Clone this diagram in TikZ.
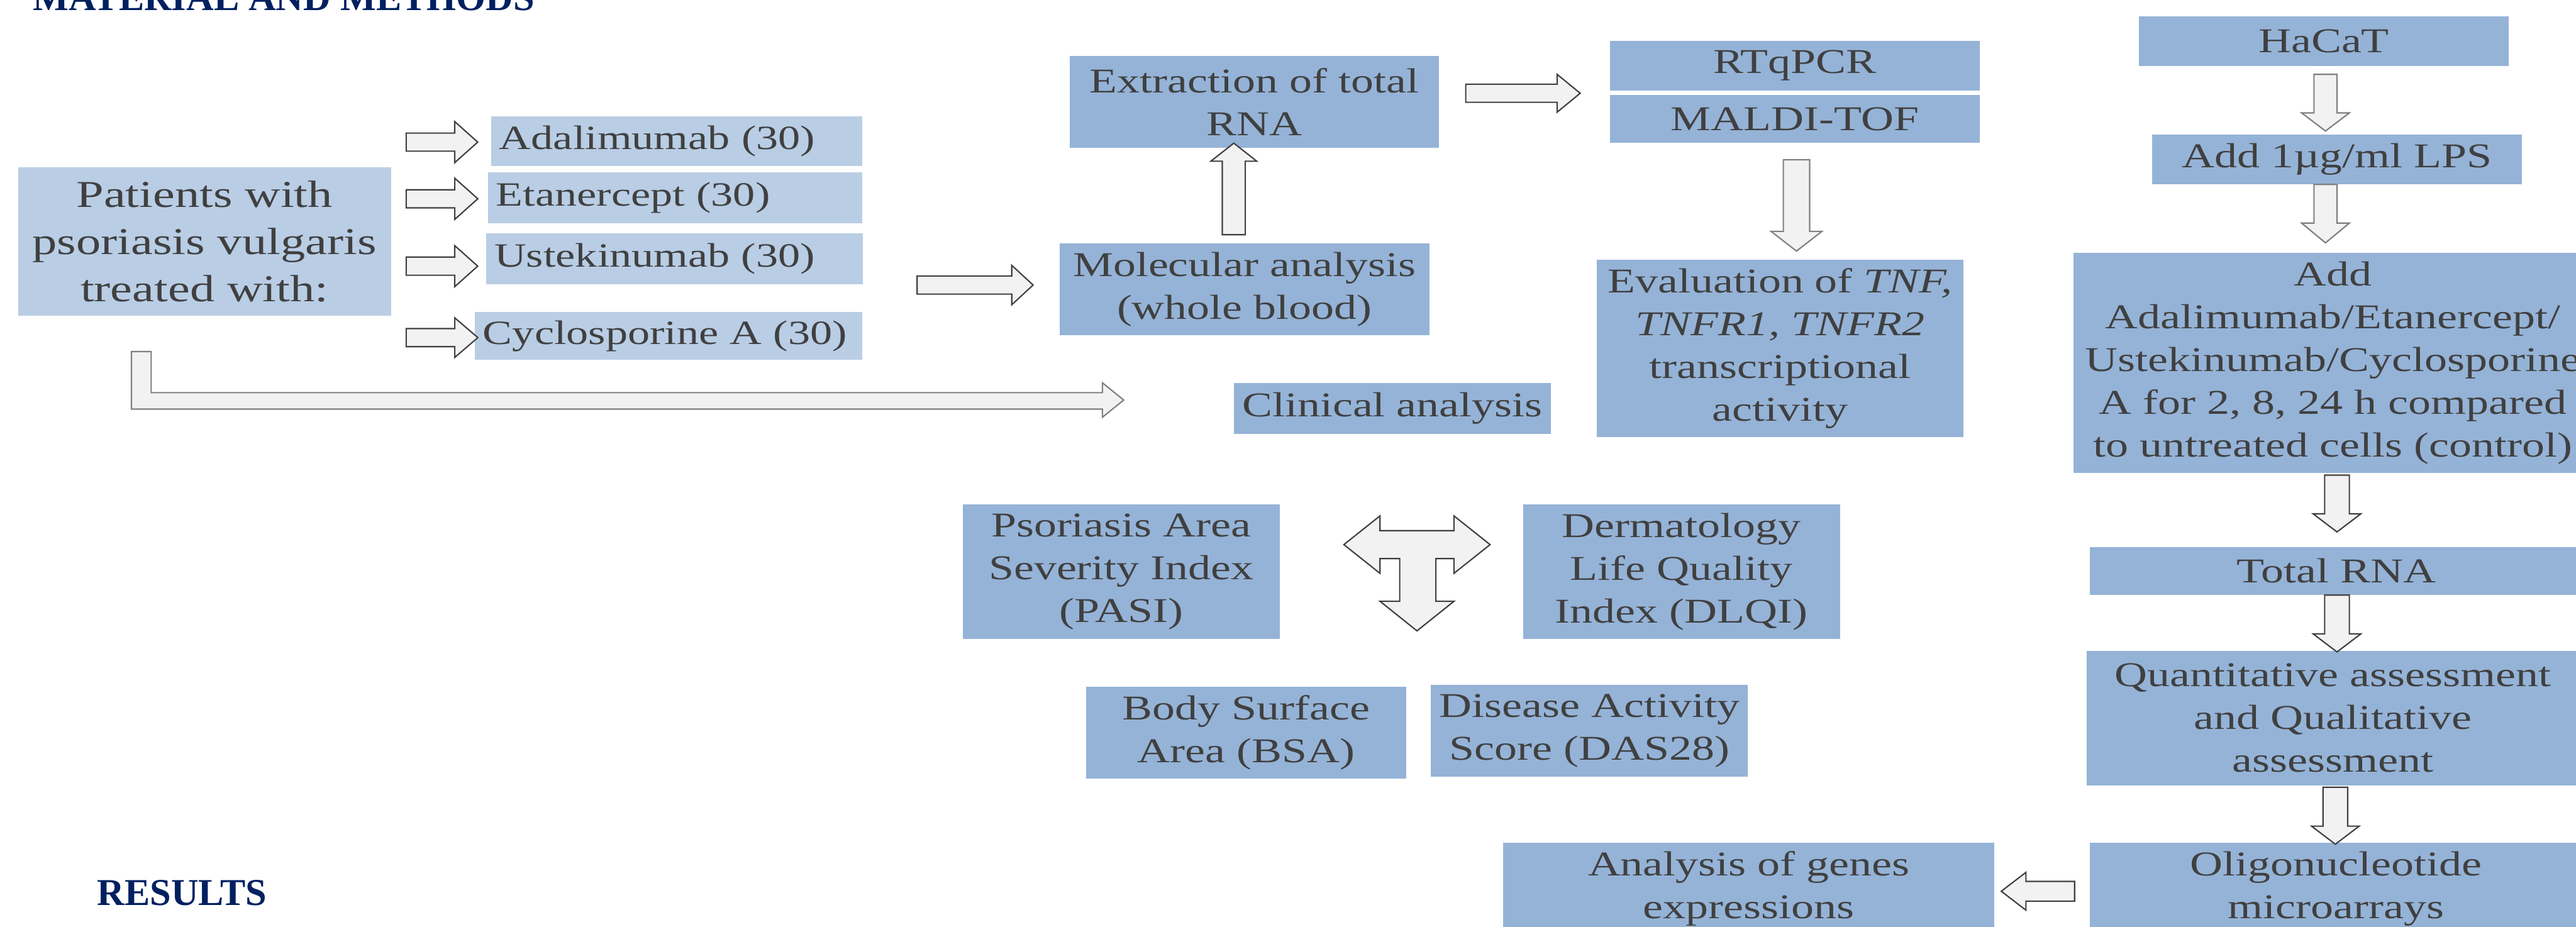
\documentclass[tikz,border=0pt]{standalone}
\usepackage{fontspec}
\setmainfont{Liberation Serif}[FakeStretch=1.3]
\newfontfamily\headfont{Liberation Serif}
\usetikzlibrary{calc}
\definecolor{boxblue}{HTML}{95B3D7}
\definecolor{paleblue}{HTML}{B9CDE5}
\definecolor{txtgray}{HTML}{404040}
\definecolor{arrfill}{HTML}{F2F2F2}
\definecolor{arrdark}{HTML}{404040}
\definecolor{arrgray}{HTML}{7F7F7F}
\definecolor{navy}{HTML}{002060}
\def\blockarrow[#1](#2)(#3)(#4:#5:#6){\draw[#1] let \p1=(#2), \p2=(#3), \n1={atan2(\y2-\y1,\x2-\x1)}, \n2={veclen(\x2-\x1,\y2-\y1)} in [shift={(\p1)}, rotate=\n1] (0pt,{#4*1.04pt}) -- ({\n2*1pt-#6*1.04pt},{#4*1.04pt}) -- ({\n2*1pt-#6*1.04pt},{#5*1.04pt}) -- ({\n2*1pt},0pt) -- ({\n2*1pt-#6*1.04pt},{-#5*1.04pt}) -- ({\n2*1pt-#6*1.04pt},{-#4*1.04pt}) -- (0pt,{-#4*1.04pt}) -- cycle;}

\begin{document}
\begin{tikzpicture}[x=0.0365cm, y=-0.0365cm,
	box/.style={fill=boxblue, text=txtgray, align=center, inner sep=0pt, font=\fontsize{22}{27}\selectfont},
	drug/.style={box, fill=paleblue, align=left, inner xsep=0.18cm, font=\fontsize{21.5}{26}\selectfont},
	arr/.style={fill=arrfill, draw=arrdark, line width=0.85pt},
	arrg/.style={arr, draw=arrgray},
	head/.style={text=navy, inner sep=0pt, anchor=base west, font=\headfont\bfseries\fontsize{24}{28}\selectfont}]
			%%%%% START %%%%%
			
			\useasboundingbox (0,0) rectangle (1568,564);
			
			\node[head] (methods) at (20,6.5) {MATERIAL AND METHODS};
			\node[head] (results) at (59,551) {RESULTS};
			
			\node[box, fill=paleblue, minimum width=8.29cm, minimum height=3.29cm, font=\fontsize{24}{30}\selectfont] (patients) at (124.5,147) {Patients with\\psoriasis vulgaris\\treated with:};
			\node[drug, text width=7.89cm, minimum height=1.10cm] (ada) at (412,86) {Adalimumab (30)};
			\node[drug, text width=7.96cm, minimum height=1.13cm] (eta) at (411,120.5) {Etanercept (30)};
			\node[drug, text width=8.00cm, minimum height=1.13cm] (ust) at (410.5,157.5) {Ustekinumab (30)};
			\node[drug, text width=8.25cm, minimum height=1.06cm] (cyc) at (407,204.5) {Cyclosporine A (30)};
			
			\node[box, minimum width=8.21cm, minimum height=2.04cm] (extraction) at (763.5,62) {Extraction of total\\RNA};
			\node[box, minimum width=8.21cm, minimum height=2.04cm] (molecular) at (757.5,176) {Molecular analysis\\(whole blood)};
			\node[box, minimum width=8.21cm, minimum height=1.10cm] (rtqpcr) at (1092.5,40) {RTqPCR};
			\node[box, minimum width=8.21cm, minimum height=1.06cm] (maldi) at (1092.5,72.5) {MALDI-TOF};
			\node[box, minimum width=8.14cm, minimum height=3.94cm] (evaluation) at (1083.5,212) {Evaluation of \textit{TNF,}\\\textit{TNFR1, TNFR2}\\transcriptional\\activity};
			\node[box, minimum width=7.04cm, minimum height=1.13cm] (clinical) at (847.5,248.5) {Clinical analysis};
			
			\node[box, minimum width=7.04cm, minimum height=2.99cm] (pasi) at (682.5,348) {Psoriasis Area\\Severity Index\\(PASI)};
			\node[box, minimum width=7.04cm, minimum height=2.99cm] (dlqi) at (1023.5,348) {Dermatology\\Life Quality\\Index (DLQI)};
			\node[box, minimum width=7.12cm, minimum height=2.04cm] (bsa) at (758.5,446) {Body Surface\\Area (BSA)};
			\node[box, minimum width=7.04cm, minimum height=2.04cm] (das) at (967.5,445) {Disease Activity\\Score (DAS28)};
			\node[box, minimum width=10.91cm, minimum height=2.04cm] (analysis) at (1064.5,541) {Analysis of genes\\expressions};
			
			\node[box, minimum width=8.21cm, minimum height=1.10cm] (hacat) at (1414.5,25) {HaCaT};
			\node[box, minimum width=8.21cm, minimum height=1.10cm] (lps) at (1422.5,97) {Add 1µg/ml LPS};
			\node[box, minimum width=11.53cm, minimum height=4.89cm] (add) at (1420,221) {Add\\Adalimumab/Etanercept/\\Ustekinumab/Cyclosporine\\A for 2, 8, 24 h compared\\to untreated cells (control)};
			\node[box, minimum width=10.95cm, minimum height=1.06cm] (total) at (1422,347.5) {Total RNA};
			\node[box, minimum width=10.95cm, minimum height=2.99cm] (quant) at (1420,437) {Quantitative assessment\\and Qualitative\\assessment};
			\node[box, minimum width=10.95cm, minimum height=2.04cm] (oligo) at (1422,541) {Oligonucleotide\\microarrays};
			
			% patients to the drugs
			\blockarrow[arr]($(patients.east |- ada.west)+(9,0.5)$)($(ada.west)+(-8,0.5)$)(5.5:12.5:14);
			\blockarrow[arr]($(patients.east |- eta.west)+(9,0.5)$)($(eta.west)+(-6,0.5)$)(5.5:12.5:14);
			\blockarrow[arr]($(patients.east |- ust.west)+(9,4.5)$)($(ust.west)+(-5,4.5)$)(5.5:12.5:14);
			\blockarrow[arr]($(patients.east |- cyc.west)+(9,1)$)($(cyc.west)+(2,1)$)(5.5:12:14);
			
			% molecular branch
			\blockarrow[arr]($(ada.east |- molecular.west)+(33,-2.5)$)($(molecular.west)+(-16,-2.5)$)(5.5:12:13);
			\blockarrow[arr]($(molecular.north)+(-6.5,-5)$)($(extraction.south)+(-12.5,-3)$)(7:14:11);
			\blockarrow[arr]($(extraction.east |- rtqpcr.south)+(16,1.5)$)($(rtqpcr.south west)+(-18,1.5)$)(5.5:11.5:14);
			\blockarrow[arrg]($(maldi.south)+(1,10)$)($(maldi.south |- evaluation.north)+(1,-5)$)(8:15.5:12);
			
			% clinical branch
			\coordinate (ltop) at (86,214);
			\coordinate (ltip) at (684,243.5);
			\draw[arrg] ($(ltop)+(-6,0)$) |- ($(ltip)+(-13,5.5)$) -- ++(0,5) -- (ltip) -- ++(-13,-10.5) -- ++(0,6) -| ($(ltop)+(6,0)$) -- cycle;
			
			\coordinate (tee) at (862.5,331.5);
			\draw[arr, shift={(tee)}] (-44.5,0) -- (-22.5,-17.5) -- (-22.5,-8.5) -- (22.5,-8.5) -- (22.5,-17.5) -- (44.5,0) -- (22.5,17.5) -- (22.5,8.5) -- (11.5,8.5) -- (11.5,34.5) -- (22.5,34.5) -- (0,52.5) -- (-22.5,34.5) -- (-10.5,34.5) -- (-10.5,8.5) -- (-22.5,8.5) -- (-22.5,17.5) -- cycle;
			
			% HaCaT column
			\blockarrow[arrg]($(hacat.south)+(1,5)$)($(hacat.south |- lps.north)+(1,-2)$)(7:14.5:11);
			\blockarrow[arrg]($(lps.south)+(-7,0)$)($(lps.south |- add.north)+(-7,-6)$)(7:14.5:12);
			\blockarrow[arr]($(add.south)+(2.5,1)$)($(add.south |- total.north)+(2.5,-9)$)(7.5:14.5:11);
			\blockarrow[arr]($(total.south)+(0.5,0)$)($(total.south |- quant.north)+(0.5,1)$)(7.5:14.5:11);
			\blockarrow[arr]($(quant.south)+(1.5,1)$)($(quant.south |- oligo.north)+(1.5,1)$)(7.5:14.5:11);
			\blockarrow[arr]($(oligo.west)+(-9,1.5)$)($(analysis.east)+(4,1.5)$)(6:11.5:15);
			
			%%%%% END %%%%%
\end{tikzpicture}
\end{document}
